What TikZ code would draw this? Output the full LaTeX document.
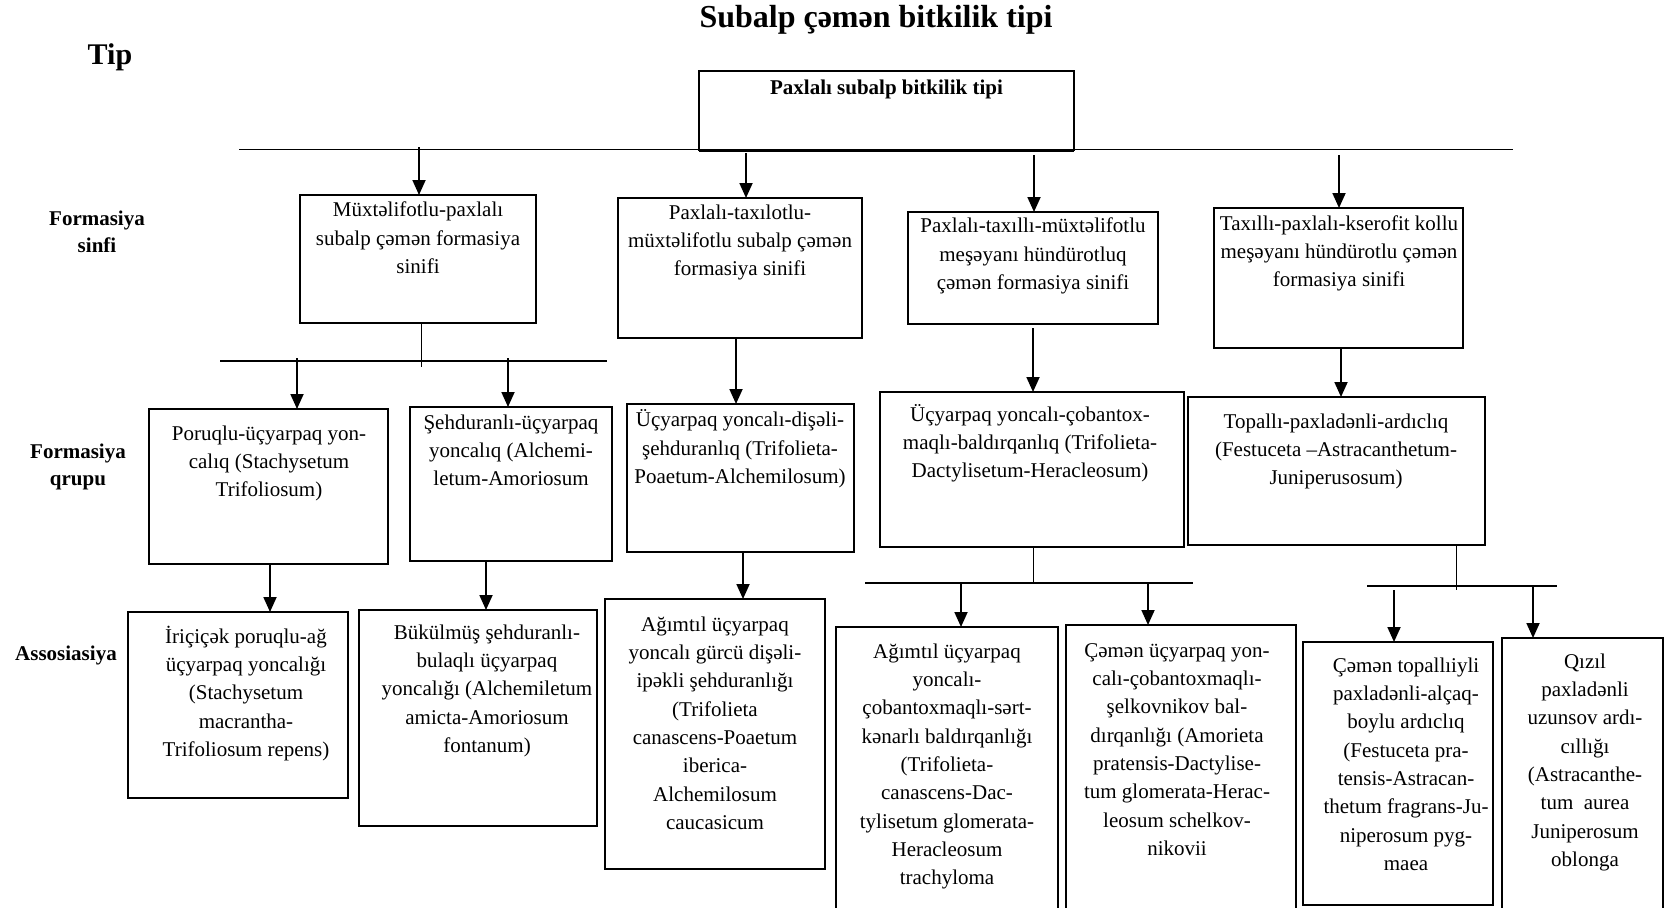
\documentclass[tikz,border=0pt]{standalone}
\usepackage{fontspec}
\setmainfont{Liberation Serif}
\usetikzlibrary{arrows.meta}
\tikzset{
  boxst/.style={draw, line width=1.5pt, inner sep=0pt, outer sep=0pt},
  tx/.style={font=\fontsize{21}{28.3}\selectfont, align=center, inner sep=0pt, anchor=north},
  lbl/.style={font=\fontsize{21}{27.5}\selectfont\bfseries, align=center, inner sep=0pt},
  arr/.style={line width=1.8pt, -{Triangle[width=13pt,length=15pt]}},
  bus/.style={line width=1.5pt},
  thinln/.style={line width=1pt},
}
\newcommand\bx[5]{\node[boxst, minimum width={(#4-#2)*1pt}, minimum height={(#5-#3)*1pt}] (#1) at ({(#2+#4)/2},{(#3+#5)/2}) {};}
\newcommand\btxt[4]{\node[tx] (#1) at (#2,{#3-20}) {\rule{0pt}{20pt}#4};}
\begin{document}
\begin{tikzpicture}[x=1pt,y=-1pt]
\useasboundingbox (0,0) rectangle (1664,907);
\clip (0,0) rectangle (1664,907);
\fill[white] (0,0) rectangle (1664,907);

% titles and row labels
\node[font=\fontsize{32}{36}\selectfont\bfseries, anchor=base, inner sep=0pt] (title) at (876,28) {Subalp çəmən bitkilik tipi};
\node[font=\fontsize{30}{34}\selectfont\bfseries, anchor=base west, inner sep=0pt] (tip) at (87.5,65) {Tip};
\node[lbl, anchor=north] (lsinfi) at (97,205) {\rule{0pt}{20pt}Formasiya\\sinfi};
\node[lbl, anchor=north] (lqrupu) at (78,438) {\rule{0pt}{20pt}Formasiya\\qrupu};
\node[lbl, anchor=base] (lassos) at (66,660) {Assosiasiya};

% boxes
\bx{top}{699}{71}{1074}{150}
\bx{c1}{300}{195}{536}{323}
\bx{c2}{618}{198}{862}{338}
\bx{c3}{908}{212}{1158}{324}
\bx{c4}{1214}{208}{1463}{348}
\bx{g1}{149}{409}{388}{564}
\bx{g2}{410}{407}{612}{561}
\bx{g3}{627}{404}{854}{552}
\bx{g4}{880}{392}{1184}{547}
\bx{g5}{1188}{397}{1485}{545}
\bx{a1}{128}{612}{348}{798}
\bx{a2}{359}{610}{597}{826}
\bx{a3}{605}{599}{825}{869}
\bx{a4}{836}{627}{1058}{930}
\bx{a5}{1066}{625}{1296}{930}
\bx{a6}{1303}{642}{1493}{905}
\bx{a7}{1502}{638}{1663}{930}

% box texts
\node[font=\fontsize{21}{25}\selectfont\bfseries, anchor=base, inner sep=0pt] (topt) at (886.5,94) {Paxlalı subalp bitkilik tipi};
\btxt{c1t}{418}{216.7}{Müxtəlifotlu-paxlalı\\subalp çəmən formasiya\\sinifi}
\btxt{c2t}{740}{219}{Paxlalı-taxılotlu-\\müxtəlifotlu subalp çəmən\\formasiya sinifi}
\btxt{c3t}{1033}{232.7}{Paxlalı-taxıllı-müxtəlifotlu\\meşəyanı hündürotluq\\çəmən formasiya sinifi}
\btxt{c4t}{1339}{230}{Taxıllı-paxlalı-kserofit kollu\\meşəyanı hündürotlu çəmən\\formasiya sinifi}
\btxt{g1t}{269}{440}{Poruqlu-üçyarpaq yon-\\calıq (Stachysetum\\Trifoliosum)}
\btxt{g2t}{511}{429}{Şehduranlı-üçyarpaq\\yoncalıq (Alchemi-\\letum-Amoriosum}
\btxt{g3t}{740}{426.7}{Üçyarpaq yoncalı-dişəli-\\şehduranlıq (Trifolieta-\\Poaetum-Alchemilosum)}
\btxt{g4t}{1030}{421}{Üçyarpaq yoncalı-çobantox-\\maqlı-baldırqanlıq (Trifolieta-\\Dactylisetum-Heracleosum)}
\btxt{g5t}{1336}{428}{Topallı-paxladənli-ardıclıq\\(Festuceta –Astracanthetum-\\Juniperusosum)}
\btxt{a1t}{246}{643}{İriçiçək poruqlu-ağ\\üçyarpaq yoncalığı\\(Stachysetum\\macrantha-\\Trifoliosum repens)}
\btxt{a2t}{487}{639}{Bükülmüş şehduranlı-\\bulaqlı üçyarpaq\\yoncalığı (Alchemiletum\\amicta-Amoriosum\\fontanum)}
\btxt{a3t}{715}{631}{Ağımtıl üçyarpaq\\yoncalı gürcü dişəli-\\ipəkli şehduranlığı\\(Trifolieta\\canascens-Poaetum\\iberica-\\Alchemilosum\\caucasicum}
\btxt{a4t}{947}{658}{Ağımtıl üçyarpaq\\yoncalı-\\çobantoxmaqlı-sərt-\\kənarlı baldırqanlığı\\(Trifolieta-\\canascens-Dac-\\tylisetum glomerata-\\Heracleosum\\trachyloma}
\btxt{a5t}{1177}{657}{Çəmən üçyarpaq yon-\\calı-çobantoxmaqlı-\\şelkovnikov bal-\\dırqanlığı (Amorieta\\pratensis-Dactylise-\\tum glomerata-Herac-\\leosum schelkov-\\nikovii}
\btxt{a6t}{1406}{672}{Çəmən topallıiyli\\paxladənli-alçaq-\\boylu ardıclıq\\(Festuceta pra-\\tensis-Astracan-\\thetum fragrans-Ju-\\niperosum pyg-\\maea}
\btxt{a7t}{1585}{668}{Qızıl\\paxladənli\\uzunsov ardı-\\cıllığı\\(Astracanthe-\\tum~ aurea\\Juniperosum\\oblonga}

% level 0 bus
\coordinate (b0l) at (239,149.5);
\coordinate (b0r) at (1513,149.5);
\draw[bus] (b0l) -- (b0r);
\draw[line width=3pt] (top.south west) -- (top.south east);
\coordinate (x1) at (419,147);
\coordinate (x2) at (746,153);
\coordinate (x3) at (1034,155);
\coordinate (x4) at (1339,155);
\draw[arr] (x1) -- (x1 |- c1.north);
\draw[arr] (x2) -- (x2 |- c2.north);
\draw[arr] (x3) -- (x3 |- c3.north);
\draw[arr] (x4) -- (x4 |- c4.north);

% class -> group
\coordinate (v1) at (421,367);
\coordinate (b1l) at (220,361);
\coordinate (b1r) at (607,361);
\draw[thinln] (v1 |- c1.south) -- (v1);
\draw[bus] (b1l) -- (b1r);
\coordinate (y1) at (297,358);
\coordinate (y2) at (508,358);
\draw[arr] (y1) -- (y1 |- g1.north);
\draw[arr] (y2) -- (y2 |- g2.north);
\coordinate (y3) at (736,0);
\draw[arr] (y3 |- c2.south) -- (y3 |- g3.north);
\coordinate (y4) at (1033,328);
\draw[arr] (y4) -- (y4 |- g4.north);
\coordinate (y5) at (1341,0);
\draw[arr] (y5 |- c4.south) -- (y5 |- g5.north);

% group -> association
\coordinate (z1) at (270,0);
\coordinate (z2) at (486,0);
\coordinate (z3) at (743,0);
\draw[arr] (z1 |- g1.south) -- (z1 |- a1.north);
\draw[arr] (z2 |- g2.south) -- (z2 |- a2.north);
\draw[arr] (z3 |- g3.south) -- (z3 |- a3.north);

\coordinate (v4) at (1033,583);
\coordinate (b4l) at (865,583);
\coordinate (b4r) at (1193,583);
\draw[thinln] (v4 |- g4.south) -- (v4);
\draw[bus] (b4l) -- (b4r);
\coordinate (z4) at (961,583);
\coordinate (z5) at (1148,583);
\draw[arr] (z4) -- (z4 |- a4.north);
\draw[arr] (z5) -- (z5 |- a5.north);

\coordinate (v5) at (1456,590);
\coordinate (b5l) at (1367,586);
\coordinate (b5r) at (1557,586);
\draw[thinln] (v5 |- g5.south) -- (v5);
\draw[bus] (b5l) -- (b5r);
\coordinate (z6) at (1394,590);
\coordinate (z7) at (1533,586);
\draw[arr] (z6) -- (z6 |- a6.north);
\draw[arr] (z7) -- (z7 |- a7.north);
\end{tikzpicture}
\end{document}
